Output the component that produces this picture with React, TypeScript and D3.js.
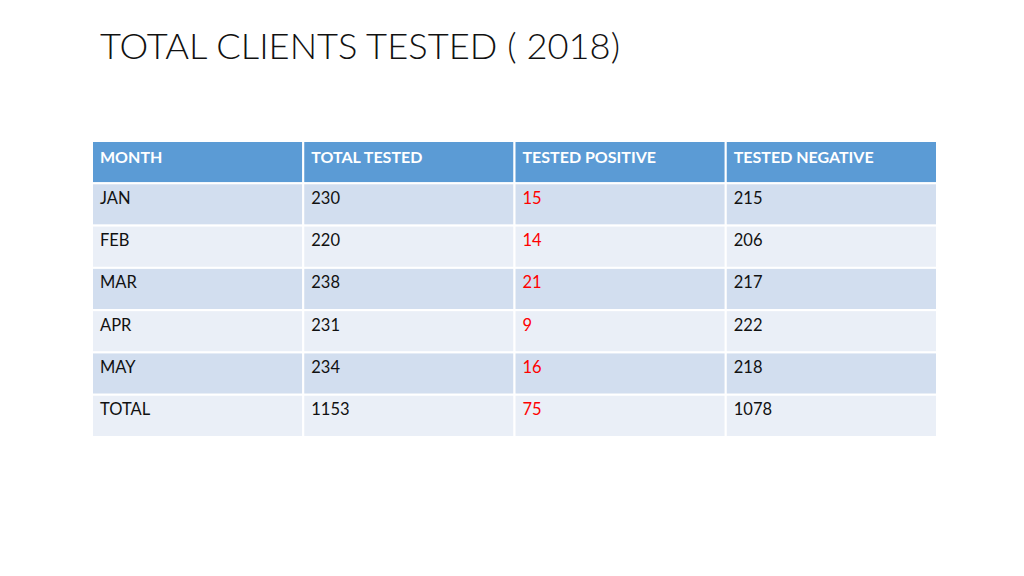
import React from "react";
import * as d3 from "d3";

const title = "TOTAL CLIENTS TESTED ( 2018)";
const headers = ["MONTH", "TOTAL TESTED", "TESTED POSITIVE", "TESTED NEGATIVE"];
const months = ["JAN", "FEB", "MAR", "APR", "MAY", "TOTAL"];
const totalTested = [230, 220, 238, 231, 234, 1153];
const testedPositive = [15, 14, 21, 9, 16, 75];
const testedNegative = [215, 206, 217, 222, 218, 1078];

const W = 1024;
const H = 576;
const FONT = "Lato, 'Open Sans', sans-serif";

export default function App() {
  const x = d3.scaleBand<number>().domain([0, 1, 2, 3]).range([92, 937]).paddingInner(0);
  const rowKeys = d3.range(months.length + 1);
  const y = d3.scaleBand<number>().domain(rowKeys).range([141, 437]).paddingInner(0);

  const rows = months.map((m, i) => [String(m), String(totalTested[i]), String(testedPositive[i]), String(testedNegative[i])]);

  return (
    <svg width={W} height={H} style={{ position: "absolute", left: 0, top: 0, background: "#fff" }}>
      <rect x={0} y={0} width={W} height={H} fill="#ffffff" />
      <text x={100} y={59} fontFamily={FONT} fontWeight={300} fontSize={35} fill="#111" textLength={520} lengthAdjust="spacingAndGlyphs">
        {title}
      </text>
      {headers.map((h, c) => (
        <g key={"h" + c}>
          <rect x={x(c)!} y={y(0)!} width={x.bandwidth()} height={y.bandwidth()} fill="#5B9BD5" stroke="#ffffff" strokeWidth={2} />
          <text x={x(c)! + 8} y={y(0)! + 21.5} fontFamily={FONT} fontWeight={700} fontSize={16} fill="#ffffff">
            {h}
          </text>
        </g>
      ))}
      {rows.map((r, i) =>
        r.map((v, c) => (
          <g key={i + "-" + c}>
            <rect
              x={x(c)!}
              y={y(i + 1)!}
              width={x.bandwidth()}
              height={y.bandwidth()}
              fill={i % 2 === 0 ? "#D2DEEF" : "#EAEFF7"}
              stroke="#ffffff"
              strokeWidth={2}
            />
            <text
              x={x(c)! + 8}
              y={y(i + 1)! + 20.5}
              fontFamily={FONT}
              fontSize={16.5}
              fill={c === 2 ? "#FF0000" : "#111111"}
            >
              {v}
            </text>
          </g>
        ))
      )}
    </svg>
  );
}
